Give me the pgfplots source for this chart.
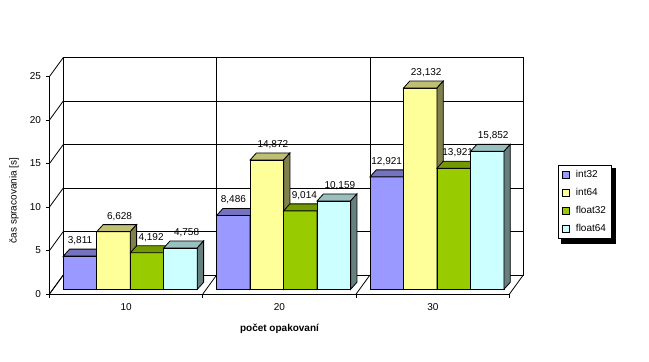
\documentclass[border=0pt]{standalone}
\usepackage{pgfplots}
\pgfplotsset{compat=1.18}
\usepackage{pgfplotstable}
\usepackage{fontspec}
\setmainfont{Liberation Sans}

\definecolor{cA}{HTML}{9999FF}
\definecolor{cB}{HTML}{FFFF99}
\definecolor{cC}{HTML}{99CC00}
\definecolor{cD}{HTML}{CCFFFF}
\newcommand\lbl{\fontsize{10}{12}\selectfont}

\pgfdeclareplotmark{nothing}{}

\pgfplotstableread{
cat int32 int64 float32 float64
10 3.811 6.628 4.192 4.758
20 8.486 14.872 9.014 10.159
30 12.921 23.132 13.921 15.852
}\datatable

\pgfplotsset{
  bar3d/.style n args={2}{%
    forget plot, only marks, mark=nothing, scatter,
    visualization depends on={rawy \as \rawy},
    scatter/@pre marker code/.code={%
      \pgfmathsetlengthmacro\barh{8.7pt*\rawy}%
      \filldraw[fill=#1, draw=black, line width=0.8pt]
        (-16.75pt,-\barh) rectangle (16.75pt,0pt);
      \filldraw[fill=#1!75!black, draw=black, line width=0.8pt]
        (-16.75pt,0pt) -- (-10.45pt,7pt) -- (23.05pt,7pt) -- (16.75pt,0pt) -- cycle;
      \filldraw[fill=#1!50!black, draw=black, line width=0.8pt]
        (16.75pt,0pt) -- (23.05pt,7pt) -- (23.05pt,{7pt-\barh}) -- (16.75pt,-\barh) -- cycle;
      \node[anchor=base, inner sep=0pt, font=\lbl] at (#2,12.5pt)
        {\pgfmathprintnumber[fixed, precision=3, use comma, assume math mode=true]{\rawy}};
    },
    scatter/@post marker code/.code={},
  },
}

\begin{document}
\begin{tikzpicture}
\fill[white] (0,0) rectangle (649pt,362pt);
\useasboundingbox (0,0) rectangle (649pt,362pt);

% back wall
\begin{axis}[
  at={(63.3pt,87pt)}, anchor=south west,
  x=153.33pt, y=8.7pt, xmin=0, xmax=3, ymin=0, ymax=25,
  axis lines=box, axis line style={line width=0.8pt},
  xtick={0,1,2,3}, ytick={0,5,...,25},
  xticklabels={}, yticklabels={},
  major tick length=0pt,
  grid=major, grid style={black, line width=0.8pt},
]
\end{axis}

% front axes, side wall and floor
\begin{axis}[
  at={(49.5pt,68pt)}, anchor=south west,
  x=153.33pt, y=8.7pt, xmin=0, xmax=3, ymin=0, ymax=25,
  axis lines=left, axis line style={-, line width=0.8pt},
  clip=false,
  xtick={0.5,1.5,2.5}, xticklabels={10,20,30},
  minor xtick={0,1,2,3},
  ytick={0,5,...,25},
  tick align=outside,
  major tick length=3.5pt, minor tick length=4pt,
  tick style={black, line width=0.8pt},
  major x tick style={draw=none},
  /pgf/number format/assume math mode=true,
  tick label style={font=\lbl},
  x tick label style={yshift=-2.5pt},
  y tick label style={xshift=-1.5pt},
  xlabel={počet opakovaní}, ylabel={čas spracovania [s]},
  every axis x label/.style={at={(axis description cs:0.5,0)}, yshift=-37.7pt, anchor=base, font=\lbl\bfseries},
  every axis y label/.style={at={(axis description cs:0,0.43)}, xshift=-35.5pt, rotate=90, anchor=center, font=\lbl},
]
\pgfplotsinvokeforeach{0,5,10,15,20,25}{\draw[black, line width=0.8pt] (axis cs:0,#1) -- ++(13.8pt,19pt);}
\pgfplotsinvokeforeach{0,1,2,3}{\draw[black, line width=0.8pt] (axis cs:#1,0) -- ++(13.8pt,19pt);}
\end{axis}

% legend shadow
\fill[black] (561.3pt,118.3pt) rectangle (616.3pt,194pt);

% bars
\begin{axis}[
  at={(53.2pt,72.7pt)}, anchor=south west,
  x=153.33pt, y=8.7pt, xmin=0, xmax=3, ymin=0, ymax=25,
  hide axis, clip=false,
  legend cell align=left,
  legend style={at={(1.098,0.5715)}, anchor=north west, draw=black, line width=0.8pt, fill=white,
    font=\lbl, inner xsep=3.5pt, inner ysep=3.1pt, row sep=5.3pt,
    /tikz/every odd column/.append style={column sep=4pt}},
]
\addplot[bar3d={cA}{0pt}] table[x expr=\coordindex+0.1751, y=int32]{\datatable};
\addplot[bar3d={cB}{6pt}] table[x expr=\coordindex+0.3936, y=int64]{\datatable};
\addplot[bar3d={cC}{4pt}] table[x expr=\coordindex+0.6121, y=float32]{\datatable};
\addplot[bar3d={cD}{6pt}] table[x expr=\coordindex+0.8306, y=float64]{\datatable};
\addlegendimage{legend image code/.code={\draw[fill=cA, line width=0.8pt] (0pt,-3.5pt) rectangle (7pt,3.5pt);}}
\addlegendimage{legend image code/.code={\draw[fill=cB, line width=0.8pt] (0pt,-3.5pt) rectangle (7pt,3.5pt);}}
\addlegendimage{legend image code/.code={\draw[fill=cC, line width=0.8pt] (0pt,-3.5pt) rectangle (7pt,3.5pt);}}
\addlegendimage{legend image code/.code={\draw[fill=cD, line width=0.8pt] (0pt,-3.5pt) rectangle (7pt,3.5pt);}}
\legend{int32,int64,float32,float64}
\end{axis}
\end{tikzpicture}
\end{document}
